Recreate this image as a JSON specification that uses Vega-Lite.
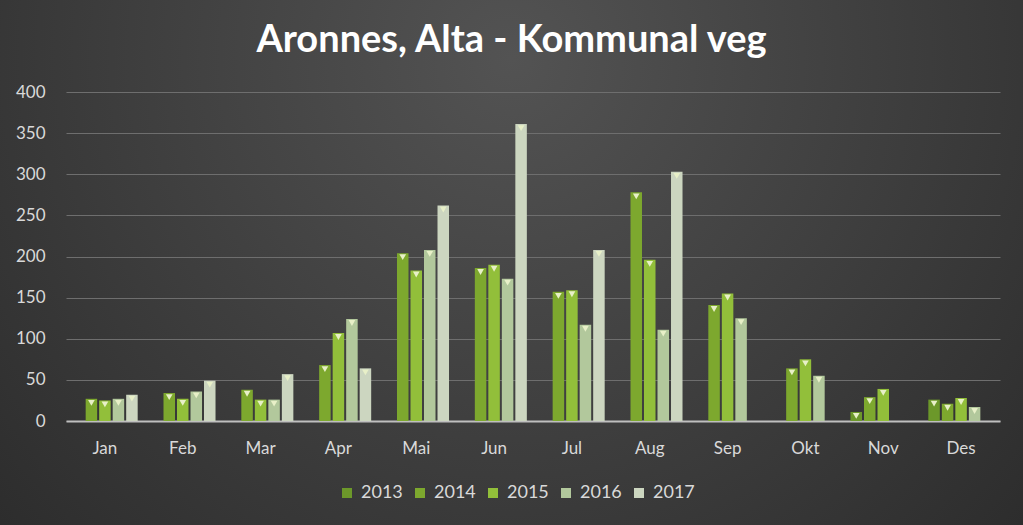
{
  "$schema": "https://vega.github.io/schema/vega-lite/v6.json",
  "width": 1023,
  "height": 525,
  "autosize": "none",
  "padding": 0,
  "background": "#333333",
  "title": {
    "text": "Aronnes, Alta - Kommunal veg",
    "font": "Lato",
    "fontSize": 38,
    "fontWeight": "bold",
    "color": "#ffffff",
    "anchor": "middle",
    "frame": "group",
    "baseline": "alphabetic",
    "offset": -90
  },
  "config": {
    "view": {
      "stroke": null,
      "fill": {
        "gradient": "radial",
        "x1": 0.5, "y1": 0.3, "r1": 0,
        "x2": 0.5, "y2": 0.3, "r2": 0.8,
        "stops": [
          {"offset": 0, "color": "#535353"},
          {"offset": 1, "color": "#262626"}
        ]
      }
    },
    "font": "Lato"
  },
  "data": {
    "values": [
      {"month": "Jan", "year": "2014", "value": 27},
      {"month": "Jan", "year": "2015", "value": 25},
      {"month": "Jan", "year": "2016", "value": 27},
      {"month": "Jan", "year": "2017", "value": 32},
      {"month": "Feb", "year": "2014", "value": 34},
      {"month": "Feb", "year": "2015", "value": 27},
      {"month": "Feb", "year": "2016", "value": 36},
      {"month": "Feb", "year": "2017", "value": 49},
      {"month": "Mar", "year": "2014", "value": 38},
      {"month": "Mar", "year": "2015", "value": 26},
      {"month": "Mar", "year": "2016", "value": 26},
      {"month": "Mar", "year": "2017", "value": 57},
      {"month": "Apr", "year": "2014", "value": 68},
      {"month": "Apr", "year": "2015", "value": 107},
      {"month": "Apr", "year": "2016", "value": 124},
      {"month": "Apr", "year": "2017", "value": 64},
      {"month": "Mai", "year": "2014", "value": 204},
      {"month": "Mai", "year": "2015", "value": 183},
      {"month": "Mai", "year": "2016", "value": 208},
      {"month": "Mai", "year": "2017", "value": 262},
      {"month": "Jun", "year": "2014", "value": 186},
      {"month": "Jun", "year": "2015", "value": 190},
      {"month": "Jun", "year": "2016", "value": 173},
      {"month": "Jun", "year": "2017", "value": 361},
      {"month": "Jul", "year": "2014", "value": 157},
      {"month": "Jul", "year": "2015", "value": 159},
      {"month": "Jul", "year": "2016", "value": 117},
      {"month": "Jul", "year": "2017", "value": 208},
      {"month": "Aug", "year": "2014", "value": 278},
      {"month": "Aug", "year": "2015", "value": 196},
      {"month": "Aug", "year": "2016", "value": 111},
      {"month": "Aug", "year": "2017", "value": 303},
      {"month": "Sep", "year": "2014", "value": 141},
      {"month": "Sep", "year": "2015", "value": 155},
      {"month": "Sep", "year": "2016", "value": 125},
      {"month": "Okt", "year": "2014", "value": 64},
      {"month": "Okt", "year": "2015", "value": 75},
      {"month": "Okt", "year": "2016", "value": 55},
      {"month": "Nov", "year": "2013", "value": 11},
      {"month": "Nov", "year": "2014", "value": 29},
      {"month": "Nov", "year": "2015", "value": 39},
      {"month": "Des", "year": "2013", "value": 26},
      {"month": "Des", "year": "2014", "value": 21},
      {"month": "Des", "year": "2015", "value": 28},
      {"month": "Des", "year": "2016", "value": 17}
    ]
  },
  "encoding": {
    "x": {
      "field": "month",
      "type": "nominal",
      "sort": ["Jan", "Feb", "Mar", "Apr", "Mai", "Jun", "Jul", "Aug", "Sep", "Okt", "Nov", "Des"],
      "scale": {"range": [66, 1000], "paddingInner": 0.158, "paddingOuter": 0.079},
      "axis": {
        "title": null,
        "orient": "bottom",
        "offset": -104,
        "labelAngle": 0,
        "labelFontSize": 17,
        "labelColor": "#d9d9d9",
        "labelPadding": 19,
        "ticks": false,
        "domainColor": "#bfbfbf",
        "domainWidth": 2,
        "grid": false
      }
    },
    "xOffset": {
      "field": "year",
      "type": "nominal",
      "sort": ["2013", "2014", "2015", "2016", "2017"],
      "scale": {"paddingInner": 0.148, "paddingOuter": 0}
    },
    "y": {
      "field": "value",
      "type": "quantitative",
      "scale": {"domain": [0, 400], "range": [421, 92], "nice": false, "zero": true},
      "axis": {
        "title": null,
        "orient": "left",
        "offset": -66,
        "values": [0, 50, 100, 150, 200, 250, 300, 350, 400],
        "labelFontSize": 17,
        "labelColor": "#d9d9d9",
        "labelPadding": 21,
        "ticks": false,
        "domain": false,
        "grid": true,
        "gridColor": "#6e6e6e",
        "gridWidth": 1
      }
    }
  },
  "layer": [
    {
      "mark": {"type": "bar"},
      "encoding": {
        "color": {
          "field": "year",
          "type": "nominal",
          "scale": {
            "domain": ["2013", "2014", "2015", "2016", "2017"],
            "range": ["#6c982a", "#7da82e", "#92bf3a", "#b2c89c", "#ccd6c0"]
          },
          "legend": {
            "title": null,
            "orient": "none",
            "direction": "horizontal",
            "columns": 5,
            "legendX": 338,
            "legendY": 484,
            "symbolType": "square",
            "symbolSize": 100,
            "symbolStrokeWidth": 0,
            "labelFontSize": 18,
            "labelColor": "#d9d9d9",
            "labelOffset": 5,
            "columnPadding": 8
          }
        }
      }
    },
    {
      "mark": {"type": "point", "shape": "triangle-down", "filled": true, "size": 45, "color": "#e8f0c8", "opacity": 1, "yOffset": 4},
      "encoding": {}
    }
  ]
}
